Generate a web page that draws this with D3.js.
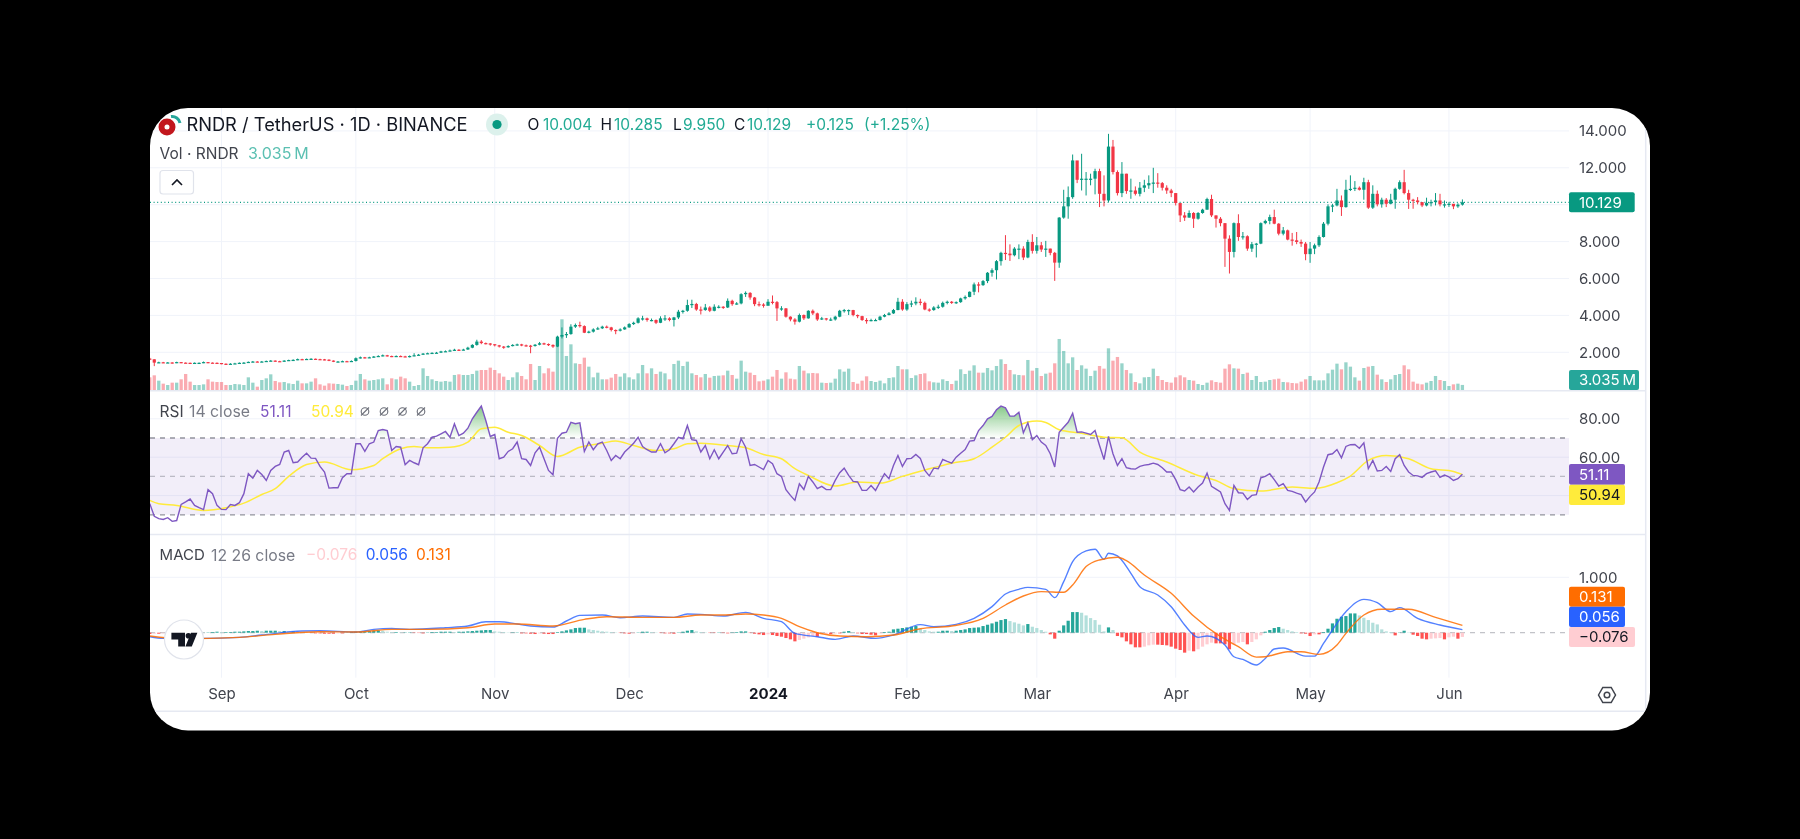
<!DOCTYPE html>
<html>
<head>
<meta charset="utf-8">
<title>RNDR / TetherUS</title>
<script src="https://cdn.jsdelivr.net/npm/d3@7"></script>
<style>
  body { margin: 0; background: #000; }
  svg { display: block; filter: blur(0.45px); }
  text { font-family: Inter, "Noto Sans", sans-serif; }
  .axis text { font-size: 15px; fill: #41444d; font-family: Inter, "Noto Sans", sans-serif; }
  .axis .domain { display: none; }
</style>
</head>
<body>
<div id="chart"></div>
<script>
// daily candles, 16 Aug 2023 .. 4 Jun 2024
const startDate = new Date(Date.UTC(2023, 7, 16));
const firstOpen = 1.66;

const closes = [
  1.62,1.44,1.46,1.45,1.45,1.42,1.47,1.44,1.43,1.42,1.43,1.43,1.47,1.44,1.43,1.42,
  1.38,1.37,1.38,1.40,1.43,1.44,1.48,1.50,1.49,1.50,1.53,1.55,1.52,1.51,1.55,1.58,1.59,1.63,1.61,1.64,1.65,1.63,1.62,1.60,1.55,1.50,1.50,1.52,1.50,1.53,
  1.68,1.73,1.71,1.73,1.77,1.80,1.84,1.80,1.78,1.80,1.78,1.77,1.80,1.84,1.87,1.93,1.95,1.97,1.98,2.05,2.06,2.10,2.14,2.12,2.15,2.25,2.40,2.58,2.50,2.48,2.44,
  2.38,2.31,2.27,2.34,2.40,2.43,2.38,2.36,2.34,2.41,2.49,2.45,2.40,2.31,2.85,2.94,2.99,3.39,3.48,3.42,3.06,3.12,3.24,3.30,3.39,3.35,3.21,3.17,3.24,3.35,
  3.53,3.60,3.84,3.84,3.75,3.75,3.60,3.84,3.84,3.75,3.89,4.20,4.25,4.56,4.62,4.32,4.29,4.43,4.25,4.47,4.47,4.43,4.79,4.61,4.65,5.15,5.22,4.97,4.61,4.59,4.52,
  4.74,4.72,4.38,4.38,3.93,3.78,3.66,4.02,3.84,4.25,4.11,3.78,3.84,3.78,3.78,3.93,4.25,4.29,4.29,4.02,3.96,3.75,3.71,3.75,3.75,3.93,4.02,4.11,4.29,4.74,4.32,
  4.61,4.65,4.74,4.68,4.32,4.29,4.43,4.47,4.68,4.74,4.70,4.72,4.92,5.00,5.28,5.68,5.64,5.86,6.31,6.45,6.94,7.39,7.35,7.26,7.62,7.62,7.14,7.98,7.50,
  7.80,7.57,7.62,7.39,6.86,9.30,9.91,10.41,12.40,11.35,11.41,11.41,11.41,11.82,10.59,10.23,13.15,11.77,10.63,11.68,10.74,10.77,10.59,10.92,11.05,11.17,11.20,11.17,10.92,10.77,10.63,
  10.09,9.42,9.30,9.55,9.24,9.55,9.73,10.31,9.42,9.24,9.00,8.16,7.44,9.00,8.25,8.29,7.62,7.86,7.89,9.00,9.12,9.33,8.97,8.43,8.61,8.11,8.07,7.98,7.89,7.32,
  7.62,7.80,8.25,8.97,9.91,9.96,10.23,9.87,10.81,10.86,10.92,10.81,11.22,9.84,10.59,10.02,10.27,10.05,10.27,10.86,11.22,10.63,10.27,10.23,10.14,9.96,10.09,10.14,10.23,10.02,10.02,
  10.05,9.91,10.004,10.129
];

const highs = [
  1.70,1.62,1.49,1.48,1.47,1.46,1.49,1.47,1.45,1.44,1.45,1.45,1.50,1.47,1.45,1.45,
  1.41,1.40,1.41,1.43,1.45,1.47,1.50,1.53,1.52,1.53,1.55,1.58,1.56,1.54,1.57,1.60,1.62,1.66,1.65,1.66,1.68,1.66,1.65,1.64,1.62,1.56,1.53,1.55,1.54,1.56,
  1.72,1.77,1.75,1.76,1.80,1.84,1.88,1.86,1.82,1.83,1.83,1.81,1.83,1.95,1.91,1.96,1.98,2.00,2.02,2.08,2.10,2.15,2.19,2.17,2.19,2.30,2.44,2.68,2.66,2.53,2.50,
  2.44,2.40,2.34,2.38,2.44,2.47,2.46,2.42,2.40,2.45,2.56,2.52,2.48,2.43,2.90,3.35,3.10,3.52,3.56,3.66,3.46,3.17,3.30,3.38,3.44,3.45,3.38,3.24,3.30,3.40,
  3.58,3.66,3.90,3.98,3.88,3.83,3.78,3.95,4.02,3.90,3.92,4.30,4.30,4.85,4.85,4.68,4.48,4.62,4.50,4.60,4.55,4.50,4.92,4.85,4.72,5.20,5.30,5.26,5.00,4.75,4.66,
  4.88,5.08,4.78,4.50,4.40,3.95,3.85,4.10,4.05,4.28,4.32,4.15,3.92,3.86,3.88,3.98,4.30,4.35,4.32,4.30,4.05,3.98,3.85,3.82,3.82,3.98,4.08,4.18,4.35,4.95,4.88,
  4.72,4.80,4.98,4.90,4.75,4.38,4.50,4.58,4.75,4.80,4.78,4.76,4.96,5.08,5.30,5.78,5.80,5.92,6.35,6.55,7.00,7.45,8.35,7.85,7.70,7.85,7.75,8.10,8.40,
  8.25,7.98,8.04,7.62,7.44,9.33,10.81,10.99,12.72,11.86,12.76,11.77,11.68,11.95,11.95,11.59,13.84,13.51,11.86,12.31,11.68,11.41,10.99,11.23,11.35,11.59,12.00,11.71,11.23,11.05,10.86,
  10.63,10.05,9.60,9.69,9.60,9.60,9.78,10.38,10.54,9.42,9.33,9.00,8.34,9.04,9.48,8.52,8.34,7.98,7.93,9.04,9.19,9.46,9.73,9.00,8.79,8.65,8.47,8.52,8.11,7.98,
  7.98,7.89,8.34,9.06,10.02,10.05,10.86,10.50,11.35,11.59,11.28,10.99,11.46,11.35,11.05,10.77,10.38,10.36,10.59,10.92,11.32,11.89,10.81,10.32,10.41,10.14,10.38,10.27,10.63,10.59,10.23,
  10.15,10.02,10.08,10.285
];

const lows = [
  1.58,1.25,1.42,1.42,1.42,1.39,1.41,1.41,1.40,1.39,1.40,1.40,1.41,1.41,1.40,1.37,
  1.35,1.34,1.35,1.37,1.38,1.41,1.42,1.46,1.46,1.47,1.48,1.51,1.49,1.48,1.49,1.53,1.56,1.57,1.58,1.59,1.61,1.60,1.59,1.57,1.52,1.47,1.47,1.48,1.48,1.49,
  1.50,1.66,1.67,1.69,1.71,1.75,1.78,1.77,1.74,1.76,1.75,1.74,1.72,1.78,1.83,1.86,1.91,1.93,1.95,1.96,2.02,2.05,2.08,2.08,2.11,2.13,2.22,2.36,2.44,2.43,2.36,
  2.32,2.26,2.19,2.25,2.32,2.36,2.33,2.31,1.95,2.31,2.38,2.40,2.34,2.24,2.28,2.75,2.78,2.95,3.32,3.34,3.04,3.03,3.07,3.22,3.26,3.30,3.13,2.98,3.13,3.22,
  3.33,3.48,3.56,3.72,3.66,3.68,3.53,3.58,3.70,3.68,3.40,3.80,4.10,4.20,4.40,4.25,4.05,4.25,4.18,4.22,4.38,4.35,4.40,4.52,4.58,4.60,5.00,4.85,4.50,4.48,4.42,
  4.60,4.60,3.70,4.25,3.88,3.68,3.50,3.62,3.75,3.82,4.02,3.70,3.75,3.72,3.70,3.72,3.90,4.15,4.02,3.95,3.85,3.70,3.55,3.68,3.70,3.72,3.90,4.00,4.08,4.28,4.25,
  4.25,4.45,4.55,4.55,4.28,4.20,4.25,4.35,4.42,4.60,4.62,4.62,4.68,4.85,4.98,5.10,5.25,5.60,5.75,6.10,5.95,6.70,7.00,6.95,7.20,7.05,7.00,7.10,7.35,
  7.35,7.44,7.17,7.26,5.87,6.58,9.24,9.24,10.32,11.17,10.77,10.50,11.05,10.56,9.87,9.91,10.14,11.64,10.50,10.41,10.59,10.32,10.50,10.45,10.68,10.86,10.63,10.92,10.77,10.59,10.41,
  9.96,9.06,9.12,9.30,8.74,9.19,9.51,9.73,9.33,8.76,8.83,6.63,6.27,7.14,8.04,8.11,7.50,7.44,7.14,7.86,8.94,8.94,8.94,8.34,8.34,8.07,7.78,7.86,7.71,6.99,
  6.85,7.32,7.71,8.22,8.88,9.60,9.91,9.39,9.84,10.74,10.74,10.77,10.27,9.77,9.77,9.91,9.84,9.87,10.02,9.78,10.81,10.56,9.77,9.78,10.02,9.87,9.91,9.91,9.96,9.91,9.84,
  9.88,9.76,9.83,9.95
];

// volume in millions
const volumes = [
  7.6,8.8,5.6,3.8,3,4.4,4.4,6.4,9.6,5,3,3,3.4,6.4,5,4.8,
  4.8,3,3,3.6,3.4,3,7.6,4.4,2,6,7,9.4,5.4,4.6,4.8,4,3.6,5.6,4,4,5,7,3.4,2.6,4,3.8,3.6,3.2,2.4,3,
  5.6,9.6,6.4,5.6,6,6.4,7,3.4,7,6.4,8,7,5,2.4,3,13,8.4,6.4,5.4,5,5.4,5,9,9.4,9,9,9.6,11.6,12,12,13.4,
  12,10,8,6,7.6,10.6,8.4,6.4,15.6,6,14.4,10,13,11,31,42.4,20.4,27.4,16,15.6,19.4,14,7.6,10.4,6.4,6.4,7.4,9.6,8,10,
  7.6,6.4,10,15,10,13,9.6,11,10,6.4,15.6,17.6,14.4,17,10,9,7.6,9.6,7.4,8.4,8.6,8.8,11.6,9,6.8,17.6,11,10.4,9,5.2,5.6,
  6.4,8,12,6.8,10.6,6.8,6.4,14.4,11.6,10,10.2,10,4.4,4.2,4.4,6.8,12.4,11,12.8,4.8,3.8,5.6,8.2,5.4,4.8,5.6,4,7.2,7.6,14.4,12.4,
  12.4,7.2,8.8,9.6,10,5.2,4.6,4.4,6.4,5.4,3.6,5.6,12.4,9.6,11.6,14.8,10.4,10.4,13.2,11.8,14.4,18.4,15.6,12,9.4,9,8.8,18,11.6,
  13.2,8.4,9.8,10.4,16,30.6,23.4,16,19.6,12,14.8,12.8,8.4,11.6,14.4,12.8,25,17.6,19.8,16,12,10,4.8,4,7.6,7.8,12.8,8.4,6,4.8,4.4,
  7.6,8.8,7.6,6,5.6,3.6,3,4.4,5.8,4.8,4.4,12.8,15.4,13,12.8,9.6,10.4,6,8.4,4.8,5,6,6.4,6.8,4.8,4.6,4.2,4,5,6.4,
  8.4,5.8,5.8,5.8,10,12.2,15.8,12.4,16.6,14,7.6,5.6,13.2,14,14.4,9.2,6.4,4.8,6.4,9,9.6,14.8,12.4,5,3.8,3.4,4.4,5.4,8.4,6,5.4,
  2.4,3.4,3.8,3.035
];

const rsiValues = [
  35.8,29.2,28.0,27.6,28.5,26.6,27.0,35.4,36.7,38.2,34.9,33.7,32.7,43.1,41.0,34.9,32.8,32.7,35.3,34.9,36.3,41.0,51.4,49.1,53.1,51.0,47.9,53.1,55.2,56.2,
  62.7,63.5,57.1,57.5,60.0,62.1,59.5,59.4,55.2,52.3,43.9,44.1,44.1,49.3,51.4,51.4,67.0,67.0,63.0,67.0,67.9,73.9,74.4,73.9,63.5,65.6,65.2,56.1,58.3,57.1,
  56.1,64.9,67.0,70.4,71.0,72.2,73.4,70.4,77.4,71.3,72.5,75.1,80.0,83.4,86.6,79.1,70.8,71.8,59.2,60.0,63.0,64.4,67.9,59.2,58.8,55.7,62.3,65.2,59.2,53.1,
  50.9,69.9,72.5,73.0,78.1,77.4,77.9,63.0,67.9,63.9,67.0,67.9,63.5,58.3,60.9,59.2,62.7,64.9,67.3,70.4,65.6,63.9,62.7,62.7,67.0,62.3,63.9,67.0,70.4,69.6,
  76.5,69.1,68.7,
  62.7,66.1,59.2,63.9,59.2,62.7,66.1,61.8,62.1,69.6,65.2,55.7,56.2,54.9,53.6,58.3,56.6,51.4,50.0,43.1,40.1,37.5,46.2,43.2,50.0,47.1,43.6,44.8,43.1,43.1,
  47.9,51.9,54.3,50.5,47.4,47.1,42.7,42.7,45.3,42.7,47.1,51.4,48.8,55.7,60.9,55.2,59.2,59.4,61.4,59.4,53.1,50.3,54.3,54.0,58.8,57.8,56.9,60.0,62.1,64.0,
  68.4,68.7,73.9,76.5,80.0,81.2,84.7,86.6,85.7,81.4,81.4,83.4,72.7,77.9,69.1,71.3,67.9,66.1,61.8,54.9,73.0,75.6,78.2,82.9,73.0,73.2,72.5,71.8,73.9,66.1,
  58.8,70.8,61.8,55.7,59.2,54.5,54.0,53.8,55.2,55.9,56.2,56.9,56.2,54.5,52.3,52.3,48.3,43.1,42.4,44.5,41.9,44.5,46.5,51.7,44.8,43.4,
  41.9,35.8,32.3,45.3,41.5,41.3,38.0,40.1,40.5,49.3,50.0,51.4,48.3,45.0,46.2,42.7,42.2,41.3,40.5,36.7,39.6,41.9,47.1,54.9,61.3,61.8,64.0,59.7,65.6,66.5,
  66.6,64.7,67.5,54.0,58.3,52.8,53.1,55.2,52.6,59.2,61.3,55.7,52.3,50.5,50.3,49.5,51.4,52.3,52.9,49.5,50.7,49.7,47.9,48.8,51.11
];

// the smooth lines were read at the days listed (day number from the first candle)
const rsiMaDays = [0,2,6,12,17,21,25,28,31,35,39,45,50,52,56,59,62,67,71,74,77,80,83,87,91,96,101,104,108,113,117,120,123,129,133,137,141,144,147,153,158,163,168,174,179,184,188,191,194,198,200,203,208,213,217,221,227,234,238,242,248,255,260,265,268,272,276,281,286,291,293];
const rsiMaValues = [37.5,35.8,34.9,32.3,33.7,36.1,40.6,43.6,50,56.2,57.5,53.5,55.7,59.2,64.4,65.6,64.9,65.2,67.9,74.8,75.6,73,71.3,66.1,60.4,65.2,67.3,68.4,66.1,63.5,64.4,67,67.3,66.1,64.9,61.4,59.2,54,50.5,45,47.1,46.5,50,54,56.9,59.2,65.2,70.4,76.5,78.8,78.1,74.3,72.5,70.4,70.1,62.7,57.5,50.5,47.9,43.6,42.4,44.5,43.8,46.7,50.2,58.3,60.9,59.2,54,52.6,50.94];

const macdDays = [0,3,12,20,25,34,38,46,50,54,58,66,71,75,78,82,85,90,93,96,101,105,110,117,120,123,128,133,137,141,144,149,153,157,162,166,172,175,180,184,188,191,194,196,200,202,204,206,209,211,213,214,216,219,221,225,228,231,234,236,240,242,244,247,249,251,253,258,260,262,267,271,274,277,279,283,288,293];
const macdValues = [-0.072,-0.102,-0.102,-0.084,-0.042,0.03,0.036,0.012,0.06,0.078,0.06,0.09,0.12,0.199,0.199,0.157,0.12,0.102,0.211,0.313,0.319,0.271,0.301,0.277,0.337,0.331,0.301,0.367,0.259,0.199,-0.012,-0.072,-0.12,-0.06,-0.102,-0.042,0.145,0.108,0.151,0.259,0.47,0.699,0.783,0.819,0.783,0.633,0.922,1.283,1.476,1.506,1.325,1.434,1.386,1.072,0.831,0.681,0.47,0.139,-0.084,-0.06,-0.223,-0.434,-0.482,-0.584,-0.464,-0.295,-0.277,-0.422,-0.422,-0.193,0.38,0.602,0.542,0.38,0.452,0.259,0.139,0.056];

const signalDays = [0,7,20,28,38,46,54,62,71,77,82,90,97,102,110,117,123,128,133,137,141,145,149,154,160,166,172,179,186,191,195,199,204,206,209,212,216,218,222,228,233,239,243,247,249,254,257,261,265,267,271,275,281,287,293];
const signalValues = [-0.06,-0.108,-0.084,-0.03,0.018,0.012,0.06,0.06,0.09,0.157,0.157,0.12,0.241,0.289,0.277,0.277,0.319,0.319,0.337,0.319,0.259,0.108,0,-0.06,-0.072,-0.042,0.072,0.12,0.259,0.5,0.663,0.741,0.729,0.861,1.193,1.313,1.361,1.301,1.042,0.711,0.301,-0.072,-0.253,-0.44,-0.434,-0.343,-0.343,-0.392,-0.223,-0.012,0.319,0.422,0.422,0.277,0.131];

const histValues = [
  -0.024,-0.018,-0.018,-0.012,-0.012,-0.012,-0.006,-0.006,0.006,0.006,
  0.006,0.012,0.006,0.006,0.012,0.018,0.012,0.012,0.012,0.018,
  0.018,0.024,0.03,0.03,0.036,0.03,0.036,0.036,0.036,0.03,
  0.03,0.024,0.024,0.018,0.012,0.006,-0.006,-0.012,-0.012,-0.018,
  -0.018,-0.018,-0.012,-0.012,0.006,0.012,0.018,0.018,0.024,0.03,
  0.036,0.042,0.036,0.018,0.012,0.012,0.006,0.006,0.006,-0.006,
  -0.006,-0.012,0.006,0.012,0.012,0.018,0.018,0.018,0.012,0.018,
  0.018,0.024,0.03,0.036,0.042,0.048,0.048,0.024,0.018,0.012,
  0.006,0.006,0.006,-0.012,-0.012,-0.018,-0.024,-0.012,-0.018,-0.024,
  -0.024,0.012,0.024,0.042,0.06,0.084,0.09,0.09,0.06,0.048,
  0.036,0.024,0.018,0.012,0.006,-0.006,-0.012,-0.018,-0.012,0.006,
  0.018,0.018,0.012,0.006,-0.006,-0.012,-0.012,-0.018,0.006,0.018,
  0.036,0.048,0.024,
  0.012,0.006,-0.006,-0.006,0.006,-0.006,-0.012,0.006,0.012,0.024,
  0.024,-0.006,-0.018,-0.03,-0.042,-0.03,-0.042,-0.06,-0.072,-0.096,
  -0.12,-0.156,-0.132,-0.108,-0.084,-0.06,-0.072,-0.03,-0.024,-0.024,
  -0.012,-0.012,0.018,0.03,0.012,-0.012,-0.024,-0.024,-0.036,-0.048,
  -0.012,0.012,0.018,0.06,0.072,0.084,0.096,0.108,0.12,0.072,
  0.048,0.024,0.018,0.018,0.036,0.036,0.03,0.036,0.048,0.06,
  0.084,0.09,0.096,0.12,0.144,0.168,0.198,0.228,0.246,0.21,
  0.186,0.162,0.132,0.156,0.108,0.084,0.048,0.018,-0.03,-0.108,
  0.036,0.132,0.216,0.372,0.372,0.36,0.312,0.264,0.228,0.144,
  0.024,0.096,0.048,-0.06,-0.084,-0.156,-0.21,-0.264,-0.264,-0.252,
  -0.228,-0.216,-0.216,-0.222,-0.228,-0.252,-0.288,-0.312,-0.36,-0.324,
  -0.336,-0.3,-0.252,-0.21,-0.18,-0.192,
  -0.192,-0.21,-0.3,-0.216,-0.18,-0.168,-0.21,-0.168,-0.12,-0.048,
  0.018,0.048,0.084,0.102,0.072,0.048,0.024,0.012,-0.012,-0.018,
  -0.06,-0.03,-0.03,0.012,0.072,0.168,0.252,0.288,0.3,0.348,
  0.348,0.312,0.27,0.228,0.18,0.15,0.06,0.024,0.012,-0.048,
  0.006,0.036,0.006,-0.036,-0.06,-0.108,-0.12,-0.108,-0.102,-0.096,
  -0.12,-0.084,-0.072,-0.108,-0.076
];

const priceTicks = [2, 4, 6, 8, 12, 14];
const priceGrid = [2, 4, 6, 8, 10, 12, 14];
const rsiTicks = [80, 60];
const rsiGrid = [80, 60, 40];
const macdTicks = [1];
const monthDates = ["2023-09-01","2023-10-01","2023-11-01","2023-12-01","2024-01-01","2024-02-01","2024-03-01","2024-04-01","2024-05-01","2024-06-01"].map(s => new Date(s));
const monthLabels = ["Sep","Oct","Nov","Dec","2024","Feb","Mar","Apr","May","Jun"];

const upColor = "#089981", downColor = "#f23645";

const width = 1800, height = 839;
const cardLeft = 150, cardTop = 108, cardRight = 1650, cardBottom = 730.5;
const plotRight = 1569, frameRight = 1645.7, timeAxisTop = 677.7, timeAxisBottom = 711.3;
const mainBottom = 390.7, rsiBottom = 534.4;

const dates = closes.map((c, i) => d3.utcDay.offset(startDate, i));
const opens = closes.map((c, i) => i === 0 ? firstOpen : closes[i - 1]);

const x = d3.scaleUtc().domain([startDate, dates[dates.length - 1]]).range([149.8, 1462.4]);
const yPrice = d3.scaleLinear().domain([2, 14]).range([352.3, 130.9]);
const yVolume = d3.scaleLinear().domain([0, 42.4]).range([390, 319.3]);
const yRsi = d3.scaleLinear().domain([30, 80]).range([514.8, 418.8]);
const yMacd = d3.scaleLinear().domain([0, 1]).range([632.7, 577.3]);

const svg = d3.select("#chart").append("svg").attr("width", width).attr("height", height);
const defs = svg.append("defs");

defs.append("clipPath").attr("id", "card-clip").append("rect")
  .attr("x", cardLeft).attr("y", cardTop)
  .attr("width", cardRight - cardLeft).attr("height", cardBottom - cardTop)
  .attr("rx", 38);

const obGradient = defs.append("linearGradient").attr("id", "overbought")
  .attr("gradientUnits", "userSpaceOnUse")
  .attr("x1", 0).attr("x2", 0).attr("y1", yRsi(86)).attr("y2", yRsi(70));
obGradient.append("stop").attr("offset", 0).attr("stop-color", "#4caf50").attr("stop-opacity", 0.65);
obGradient.append("stop").attr("offset", 1).attr("stop-color", "#4caf50").attr("stop-opacity", 0);

svg.append("rect").attr("x", cardLeft).attr("y", cardTop)
  .attr("width", cardRight - cardLeft).attr("height", cardBottom - cardTop)
  .attr("rx", 38).attr("fill", "#fff");

const card = svg.append("g").attr("clip-path", "url(#card-clip)");

// grid
card.append("g").selectAll("line").data(monthDates).join("line")
  .attr("x1", d => x(d)).attr("x2", d => x(d))
  .attr("y1", cardTop).attr("y2", timeAxisTop)
  .attr("stroke", "#f0f3fa");
function hGrid(values, scale) {
  card.append("g").selectAll("line").data(values).join("line")
    .attr("x1", cardLeft).attr("x2", plotRight)
    .attr("y1", d => scale(d)).attr("y2", d => scale(d))
    .attr("stroke", "#f0f3fa");
}
hGrid(priceGrid, yPrice);

// pane separators and frame
const frame = card.append("g").attr("stroke", "#e6e9f2").attr("stroke-width", 1.5);
frame.append("line").attr("x1", cardLeft).attr("x2", frameRight).attr("y1", mainBottom).attr("y2", mainBottom);
frame.append("line").attr("x1", cardLeft).attr("x2", frameRight).attr("y1", rsiBottom).attr("y2", rsiBottom);
frame.append("line").attr("x1", cardLeft).attr("x2", frameRight).attr("y1", timeAxisBottom).attr("y2", timeAxisBottom);
frame.append("line").attr("x1", frameRight).attr("x2", frameRight).attr("y1", cardTop).attr("y2", timeAxisBottom);

// volume
const barWidth = 3.3;
card.append("g").selectAll("rect").data(volumes).join("rect")
  .attr("x", (d, i) => x(dates[i]) - barWidth / 2)
  .attr("width", barWidth)
  .attr("y", d => yVolume(d))
  .attr("height", d => yVolume(0) - yVolume(d))
  .attr("fill", (d, i) => closes[i] >= opens[i] ? "rgba(8,153,129,0.42)" : "rgba(242,54,69,0.42)");

// last price line
card.append("line")
  .attr("x1", cardLeft).attr("x2", plotRight)
  .attr("y1", yPrice(closes[closes.length - 1])).attr("y2", yPrice(closes[closes.length - 1]))
  .attr("stroke", upColor).attr("stroke-width", 1.2).attr("stroke-dasharray", "1 2.6");

// candles
const candle = card.append("g").selectAll("g").data(closes).join("g")
  .attr("fill", (d, i) => d >= opens[i] ? upColor : downColor)
  .attr("stroke", (d, i) => d >= opens[i] ? upColor : downColor);
candle.append("line")
  .attr("x1", (d, i) => x(dates[i])).attr("x2", (d, i) => x(dates[i]))
  .attr("y1", (d, i) => yPrice(highs[i])).attr("y2", (d, i) => yPrice(lows[i]))
  .attr("stroke-width", 1);
candle.append("rect")
  .attr("x", (d, i) => x(dates[i]) - 1.6)
  .attr("width", 3.2)
  .attr("y", (d, i) => yPrice(Math.max(d, opens[i])))
  .attr("height", (d, i) => Math.max(1.2, Math.abs(yPrice(d) - yPrice(opens[i]))))
  .attr("stroke", "none");

// RSI pane
hGrid(rsiGrid, yRsi);
card.append("rect")
  .attr("x", cardLeft).attr("width", plotRight - cardLeft)
  .attr("y", yRsi(70)).attr("height", yRsi(30) - yRsi(70))
  .attr("fill", "#7e57c2").attr("fill-opacity", 0.1);
const rsiLevels = [70, 50, 30];
card.append("g").selectAll("line").data(rsiLevels).join("line")
  .attr("x1", cardLeft).attr("x2", plotRight)
  .attr("y1", d => yRsi(d)).attr("y2", d => yRsi(d))
  .attr("stroke", "#787b86")
  .attr("stroke-opacity", d => d === 50 ? 0.45 : 0.8)
  .attr("stroke-width", 1.3)
  .attr("stroke-dasharray", "5 5");
card.append("path")
  .attr("d", d3.area().x((d, i) => x(dates[i])).y0(yRsi(70)).y1(d => yRsi(Math.max(d, 70)))(rsiValues))
  .attr("fill", "url(#overbought)");
card.append("path")
  .attr("d", d3.line().x((d, i) => x(dates[rsiMaDays[i]])).y(d => yRsi(d)).curve(d3.curveMonotoneX)(rsiMaValues))
  .attr("fill", "none").attr("stroke", "#ffeb3b").attr("stroke-width", 1.5);
card.append("path")
  .attr("d", d3.line().x((d, i) => x(dates[i])).y(d => yRsi(d))(rsiValues))
  .attr("fill", "none").attr("stroke", "#7e57c2").attr("stroke-width", 1.4);

// MACD pane
hGrid([1], yMacd);
card.append("line")
  .attr("x1", cardLeft).attr("x2", plotRight)
  .attr("y1", yMacd(0)).attr("y2", yMacd(0))
  .attr("stroke", "#787b86").attr("stroke-opacity", 0.45).attr("stroke-width", 1.2).attr("stroke-dasharray", "5 5");
function histColor(d, i) {
  const prev = i === 0 ? d : histValues[i - 1];
  if (d >= 0) return d >= prev ? "#26a69a" : "#b2dfdb";
  return d <= prev ? "#ff5252" : "#ffcdd2";
}
card.append("g").selectAll("rect").data(histValues).join("rect")
  .attr("x", (d, i) => x(dates[i]) - 1.6)
  .attr("width", 3.2)
  .attr("y", d => yMacd(Math.max(d, 0)))
  .attr("height", d => Math.abs(yMacd(d) - yMacd(0)))
  .attr("fill", histColor);
card.append("path")
  .attr("d", d3.line().x((d, i) => x(dates[macdDays[i]])).y(d => yMacd(d)).curve(d3.curveMonotoneX)(macdValues))
  .attr("fill", "none").attr("stroke", "#2962ff").attr("stroke-opacity", 0.8).attr("stroke-width", 1.4);
card.append("path")
  .attr("d", d3.line().x((d, i) => x(dates[signalDays[i]])).y(d => yMacd(d)).curve(d3.curveMonotoneX)(signalValues))
  .attr("fill", "none").attr("stroke", "#ff6d00").attr("stroke-opacity", 0.85).attr("stroke-width", 1.4);

// axes
card.append("g").attr("class", "axis").attr("transform", `translate(${plotRight},0)`)
  .call(d3.axisRight(yPrice).tickValues(priceTicks).tickFormat(d3.format(".3f")).tickSize(0).tickPadding(10));
card.append("g").attr("class", "axis").attr("transform", `translate(${plotRight},0)`)
  .call(d3.axisRight(yRsi).tickValues(rsiTicks).tickFormat(d3.format(".2f")).tickSize(0).tickPadding(10));
card.append("g").attr("class", "axis").attr("transform", `translate(${plotRight},0)`)
  .call(d3.axisRight(yMacd).tickValues(macdTicks).tickFormat(d3.format(".3f")).tickSize(0).tickPadding(10));
const timeAxis = card.append("g").attr("class", "axis").attr("transform", `translate(0,${timeAxisTop + 10.5})`)
  .call(d3.axisBottom(x).tickValues(monthDates).tickFormat((d, i) => monthLabels[i]).tickSize(0).tickPadding(0));
timeAxis.selectAll("text").attr("dy", "0.72em")
  .attr("font-weight", (d, i) => monthLabels[i] === "2024" ? 700 : 400)
  .style("fill", (d, i) => monthLabels[i] === "2024" ? "#131722" : "#41444d");

function label(xPos, yPos, str, color, size, weight) {
  return card.append("text").attr("x", xPos).attr("y", yPos).attr("dy", "0.35em")
    .attr("fill", color).attr("font-size", size).attr("font-weight", weight || 400).text(str);
}
function priceTag(top, bottom, right, fill, str, color) {
  card.append("rect").attr("x", plotRight).attr("y", top)
    .attr("width", right - plotRight).attr("height", bottom - top)
    .attr("rx", 2).attr("fill", fill);
  label(plotRight + 10, (top + bottom) / 2, str, color, 15);
}

priceTag(192.3, 212.3, 1634.7, upColor, "10.129", "#fff");
priceTag(370, 390, 1639, "#26a69a", "3.035\u2009M", "#fff");
priceTag(464, 484.8, 1625, "#7e57c2", "51.11", "#fff");
priceTag(484.8, 505, 1625, "#ffeb3b", "50.94", "#131722");
priceTag(586.7, 606.8, 1625, "#ff6d00", "0.131", "#fff");
priceTag(606.8, 627, 1625, "#2962ff", "0.056", "#fff");
priceTag(627, 647, 1635, "#ffcdd2", "\u22120.076", "#131722");

// header
const valueGreen = "#22ab94";
label(186.4, 125, "RNDR / TetherUS \u00b7 1D \u00b7 BINANCE", "#131722", 18.3);
card.append("circle").attr("cx", 497).attr("cy", 124.5).attr("r", 11).attr("fill", "#dcf1ec");
card.append("circle").attr("cx", 497).attr("cy", 124.5).attr("r", 4.6).attr("fill", upColor);
label(527.5, 125, "O", "#131722", 15.5);
label(543, 125, "10.004", valueGreen, 15.5);
label(600.5, 125, "H", "#131722", 15.5);
label(614, 125, "10.285", valueGreen, 15.5);
label(673, 125, "L", "#131722", 15.5);
label(683, 125, "9.950", valueGreen, 15.5);
label(734, 125, "C", "#131722", 15.5);
label(747, 125, "10.129", valueGreen, 15.5);
label(806, 125, "+0.125", valueGreen, 15.5);
label(864, 125, "(+1.25%)", valueGreen, 15.5);

// symbol logo
card.append("circle").attr("cx", 167).attr("cy", 127).attr("r", 5.5).attr("fill", "#fff").attr("stroke", "#c2171d").attr("stroke-width", 6);
card.append("path").attr("d", "M171 116.5 A 8 8 0 0 1 180 123").attr("fill", "none").attr("stroke", "#26a69a").attr("stroke-width", 3);

label(159.6, 153.5, "Vol \u00b7 RNDR", "#41444d", 15.5);
label(248, 153.5, "3.035\u2009M", "#5cc0b2", 16);

// collapse button
card.append("rect").attr("x", 160).attr("y", 170.5).attr("width", 33.5).attr("height", 23.5).attr("rx", 3)
  .attr("fill", "#fff").attr("stroke", "#e0e3eb").attr("stroke-width", 1.2);
card.append("path").attr("d", "M172 185 l5 -5 l5 5").attr("fill", "none").attr("stroke", "#131722").attr("stroke-width", 1.6);

// RSI legend
label(159.6, 411.5, "RSI", "#41444d", 15.5);
label(189, 411.5, "14 close", "#787b86", 15.8);
label(260, 411.5, "51.11", "#7e57c2", 15.5);
label(311, 411.5, "50.94", "#ffeb3b", 15.5);
[365, 384, 402.5, 421].forEach(cx => {
  const g = card.append("g").attr("fill", "none").attr("stroke", "#6a6d78").attr("stroke-width", 1.1);
  g.append("circle").attr("cx", cx).attr("cy", 411.5).attr("r", 3.8);
  g.append("line").attr("x1", cx - 4).attr("y1", 415.5).attr("x2", cx + 4).attr("y2", 407.5);
});

// MACD legend
label(159.6, 555, "MACD", "#41444d", 15);
label(211, 555, "12 26 close", "#787b86", 15.8);
label(306, 555, "\u22120.076", "#ffcdd2", 15.5);
label(365.7, 555, "0.056", "#2962ff", 15.5);
label(416, 555, "0.131", "#ff6d00", 15.5);

// tradingview badge
const badge = card.append("g").attr("transform", "translate(184,639.5)");
badge.append("circle").attr("r", 19.5).attr("fill", "#fff").attr("stroke", "#e0e3eb").attr("stroke-width", 1.2);
badge.append("path").attr("d", "M-12.6 -6.8 H1 V6.9 H-5.8 V0 H-12.6 Z M7 -6.8 H13.4 L7.8 6.9 H1.4 Z").attr("fill", "#131722");
badge.append("circle").attr("cx", 4.4).attr("cy", -3.8).attr("r", 2.8).attr("fill", "#131722");

// settings icon
const gear = card.append("g").attr("transform", "translate(1607,695)").attr("fill", "none").attr("stroke", "#41444d").attr("stroke-width", 1.5);
gear.append("path").attr("d", "M-8.5 0 L-4.2 -7.5 H4.2 L8.5 0 L4.2 7.5 H-4.2 Z");
gear.append("circle").attr("r", 2.8);
</script>
</body>
</html>
